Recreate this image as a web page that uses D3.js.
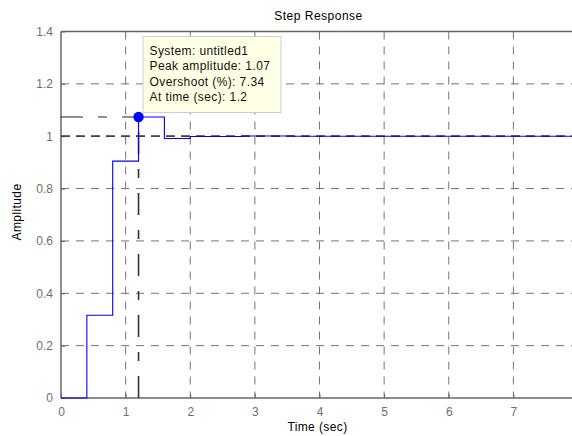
<!DOCTYPE html>
<html>
<head>
<meta charset="utf-8">
<script src="https://cdn.jsdelivr.net/npm/d3@7"></script>
<style>
  html, body { margin: 0; padding: 0; background: #fff; }
  svg { display: block; }
  text { font-family: "Liberation Sans", Arial, Helvetica, sans-serif; }
</style>
</head>
<body>
<div id="chart"></div>
<script>
// Discrete step response, sample time 0.4 s
const sampleTime = 0.4;
const sampleIndex = [0, 1, 2, 3, 4, 5, 6, 7, 8, 9, 10, 11, 12, 13, 14, 15, 16, 17, 18, 19, 20];
const amplitude = [0, 0.316, 0.905, 1.0734, 0.991, 0.999, 0.999, 1.001, 1.001, 1.0, 1.0,
                   1.0, 1.0, 1.0, 1.0, 1.0, 1.0, 1.0, 1.0, 1.0, 1.0];
const xTicks = [0, 1, 2, 3, 4, 5, 6, 7];
const yTicks = [0, 0.2, 0.4, 0.6, 0.8, 1, 1.2, 1.4];
const steadyState = 1;
const peakTime = 1.2;
const peakAmplitude = 1.0734;
const overshootPct = 7.34;
const tipLines = [
  "System: untitled1",
  "Peak amplitude: " + peakAmplitude.toFixed(2),
  "Overshoot (%): " + overshootPct.toFixed(2),
  "At time (sec): " + peakTime
];

const W = 572, H = 436;
const plotLeft = 61, plotTop = 31.5, plotBottom = 398, plotRight = 578;

const svg = d3.select("#chart").append("svg")
  .attr("width", W).attr("height", H);
svg.append("rect").attr("width", W).attr("height", H).attr("fill", "#fff");

const x = d3.scaleLinear().domain([0, 8]).range([plotLeft, plotRight]);
const y = d3.scaleLinear().domain([0, 1.4]).range([plotBottom, plotTop]);

svg.append("clipPath").attr("id", "plot")
  .append("rect").attr("x", plotLeft).attr("y", plotTop)
  .attr("width", plotRight - plotLeft).attr("height", plotBottom - plotTop);

const gridColor = "#747474";
const axisColor = "#666";

// grid
const grid = svg.append("g").attr("clip-path", "url(#plot)");
grid.selectAll("line.vx").data(xTicks.filter(d => d > 0)).join("line")
  .attr("x1", d => x(d)).attr("x2", d => x(d))
  .attr("y1", plotTop).attr("y2", plotBottom)
  .attr("stroke", gridColor).attr("stroke-width", 1)
  .attr("stroke-dasharray", "8,7");
grid.selectAll("line.hy").data(yTicks.filter(d => d > 0 && d < 1.4)).join("line")
  .attr("x1", plotLeft).attr("x2", plotRight)
  .attr("y1", d => y(d)).attr("y2", d => y(d))
  .attr("stroke", gridColor).attr("stroke-width", 1)
  .attr("stroke-dasharray", "8,7");

// axes frame
const frame = svg.append("g").attr("stroke", axisColor).attr("stroke-width", 1.5);
frame.append("line").attr("x1", plotLeft).attr("x2", plotLeft).attr("y1", plotTop).attr("y2", plotBottom);
frame.append("line").attr("x1", plotLeft).attr("x2", W).attr("y1", plotBottom).attr("y2", plotBottom);
frame.append("line").attr("x1", plotLeft).attr("x2", W).attr("y1", plotTop).attr("y2", plotTop);

// axis ticks and labels
const xAxis = d3.axisBottom(x).tickValues(xTicks).tickSize(-4).tickPadding(9).tickFormat(d3.format("d"));
const gx = svg.append("g").attr("transform", `translate(0,${plotBottom})`).call(xAxis);
gx.select(".domain").remove();
gx.selectAll(".tick line").attr("stroke", axisColor);
gx.selectAll(".tick text").attr("fill", "#6e6e6e").attr("font-size", 12)
  .attr("font-family", "Liberation Sans, Arial, sans-serif");

const yAxis = d3.axisLeft(y).tickValues(yTicks).tickSize(-4).tickPadding(8).tickFormat(d => String(+d.toFixed(1)));
const gy = svg.append("g").attr("transform", `translate(${plotLeft},0)`).call(yAxis);
gy.select(".domain").remove();
gy.selectAll(".tick line").attr("stroke", axisColor);
gy.selectAll(".tick text").attr("fill", "#6e6e6e").attr("font-size", 12)
  .attr("font-family", "Liberation Sans, Arial, sans-serif");

// peak guide lines
const guides = svg.append("g").attr("clip-path", "url(#plot)");
guides.append("line")
  .attr("x1", x(0)).attr("x2", x(peakTime))
  .attr("y1", y(peakAmplitude)).attr("y2", y(peakAmplitude))
  .attr("stroke", "#222").attr("stroke-width", 1)
  .attr("stroke-dasharray", "22,15,9,15");
guides.append("line")
  .attr("x1", x(peakTime)).attr("x2", x(peakTime))
  .attr("y1", y(0)).attr("y2", y(peakAmplitude))
  .attr("stroke", "#333").attr("stroke-width", 1.6)
  .attr("stroke-dasharray", "22,15,9,15");

// response
const pts = sampleIndex.map((k, i) => [k * sampleTime, amplitude[i]]);
const line = d3.line().x(d => x(d[0])).y(d => y(d[1])).curve(d3.curveStepAfter);
svg.append("path").datum(pts)
  .attr("d", line)
  .attr("fill", "none").attr("stroke", "#0000ff").attr("stroke-width", 1.1);

// steady-state line
guides.append("line")
  .attr("x1", plotLeft).attr("x2", plotRight)
  .attr("y1", y(steadyState)).attr("y2", y(steadyState))
  .attr("stroke", "#3a3a3a").attr("stroke-width", 1.8)
  .attr("stroke-dasharray", "9,6")
  .attr("opacity", 0.9);

// peak marker
svg.append("circle")
  .attr("cx", x(peakTime)).attr("cy", y(peakAmplitude)).attr("r", 5.2)
  .attr("fill", "#0000ff");

// data tip
const tipX = x(peakTime) + 4, tipY = y(peakAmplitude) - 81;
const tip = svg.append("g").attr("transform", `translate(${tipX},${tipY})`);
tip.append("rect").attr("x", 0.5).attr("y", 0.5).attr("width", 138).attr("height", 76)
  .attr("fill", "#ffffe6").attr("stroke", "#cfcfcf").attr("stroke-width", 1);
tip.selectAll("text").data(tipLines).join("text")
  .attr("x", 7).attr("y", (d, i) => 19 + i * 15.5)
  .attr("font-size", 12).attr("letter-spacing", 0.4).attr("fill", "#111")
  .text(d => d);

// titles
svg.append("text").attr("x", (plotLeft + plotRight) / 2 - 1).attr("y", 20)
  .attr("text-anchor", "middle").attr("font-size", 12).attr("letter-spacing", 0.5)
  .attr("fill", "#000").text("Step Response");
svg.append("text").attr("x", (plotLeft + plotRight) / 2 - 2).attr("y", 431)
  .attr("text-anchor", "middle").attr("font-size", 12).attr("letter-spacing", 0.4)
  .attr("fill", "#000").text("Time (sec)");
svg.append("text").attr("transform", "translate(21,212) rotate(-90)")
  .attr("text-anchor", "middle").attr("font-size", 12).attr("letter-spacing", 0.4)
  .attr("fill", "#000").text("Amplitude");
</script>
</body>
</html>
